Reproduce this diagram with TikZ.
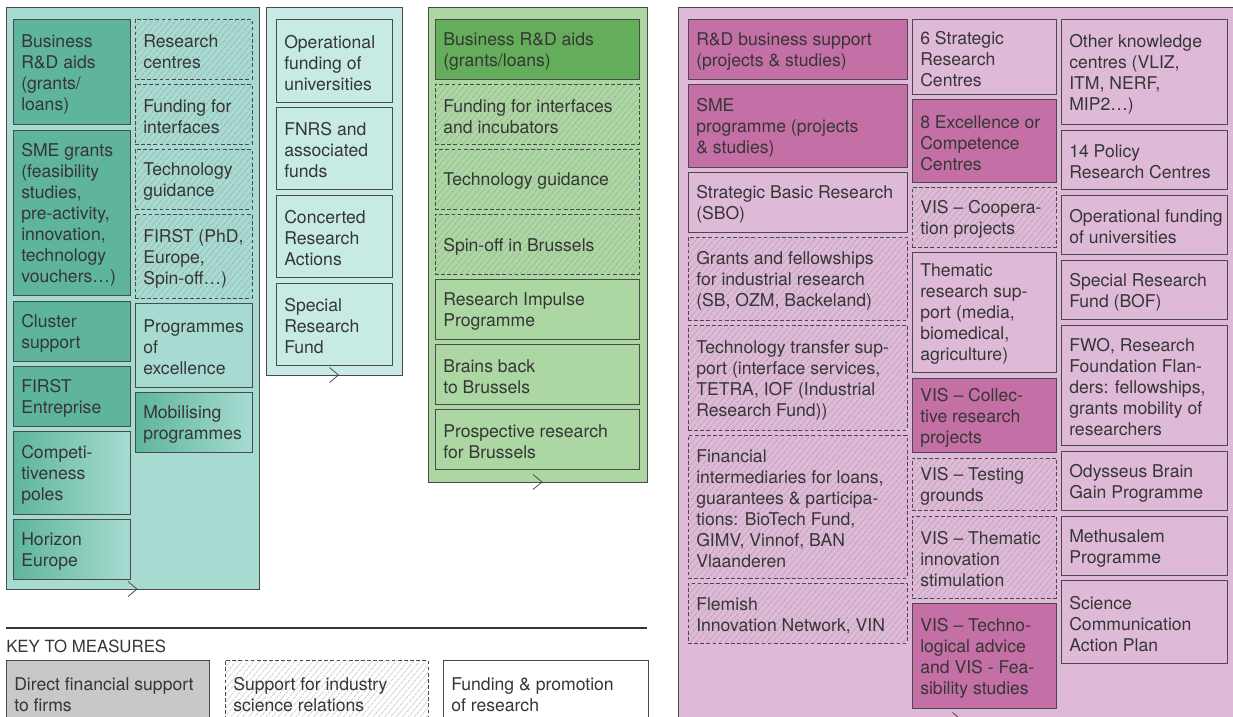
\documentclass[tikz,border=0pt]{standalone}
\usepackage{fontspec}
\setmainfont{TeX Gyre Heros}
\usetikzlibrary{calc, patterns.meta}

\definecolor{tealbg}{HTML}{A7DBD1}
\definecolor{tealdk}{HTML}{5EB59C}
\definecolor{cyanbg}{HTML}{C8EAE4}
\definecolor{greenbg}{HTML}{ACD7A3}
\definecolor{greendk}{HTML}{63AD5B}
\definecolor{pinkbg}{HTML}{DFB9D8}
\definecolor{pinkdk}{HTML}{C470A6}
\definecolor{keygray}{HTML}{C8C8CA}
\definecolor{boxline}{HTML}{4A4A4A}
\definecolor{txtclr}{HTML}{363636}

\tikzset{
  box/.style={draw=boxline, line width=0.55pt, inner sep=0pt, outer sep=0pt},
  solid box/.style={box, fill=#1},
  hatch box/.style={box, dash pattern=on 2.8pt off 1.8pt, preaction={fill=#1},
    pattern={Lines[angle=50, distance=3.4pt, line width=0.55pt]}, pattern color=#1!62!gray},
  fade box/.style 2 args={box, left color=#1, right color=#2},
  box text/.style={font=\fontsize{13.2}{15.75}\selectfont, text=txtclr, align=left, inner sep=0pt},
  panel/.style={draw=boxline, line width=0.6pt, fill=#1, inner sep=0pt, outer sep=0pt},
  chevron/.style={draw=boxline, line width=0.6pt},
}

% one measure: style, name, x1, y1, x2, y2 (px), text
\newcommand{\msrbox}[7][]{
  \pgfmathsetmacro{\msrwd}{0.75*(#5-#3)}
  \pgfmathsetmacro{\msrht}{0.75*(#6-#4)}
  \node[box, minimum width=\msrwd pt, minimum height=\msrht pt, #1] (#2) at ($(#3,#4)!0.5!(#5,#6)$) {};
  \node[box text, anchor=west] (#2-t) at ($(#2.west)+(8,2.5)$) {#7};
}
% one panel: name, x1, y1, x2, y2 (px), colour
\newcommand{\panelbox}[6]{
  \pgfmathsetmacro{\msrwd}{0.75*(#4-#2)}
  \pgfmathsetmacro{\msrht}{0.75*(#5-#3)}
  \node[panel=#6, minimum width=\msrwd pt, minimum height=\msrht pt] (#1) at ($(#2,#3)!0.5!(#4,#5)$) {};
  \draw[chevron] ($(#1.south)+(-4.5,-7.5)$) -- ($(#1.south)+(4.5,0)$) -- ($(#1.south)+(-4.5,7.5)$);
}

\begin{document}
\begin{tikzpicture}[x=0.75pt, y=-0.75pt]

\useasboundingbox (0,0) rectangle (1233,717);
\fill[white] (0,0) rectangle (1233,717);
\clip (0,0) rectangle (1233,717);

% Panels
\panelbox{teal}{6}{7}{259}{589}{tealbg}
\panelbox{cyan}{266}{7}{402}{375}{cyanbg}
\panelbox{green}{428}{7}{647}{482}{greenbg}
\panelbox{pink}{678}{7}{1236}{720}{pinkbg}

% Teal panel, left column
\msrbox[solid box=tealdk]{bus}{13}{19}{130}{124}{Business\\R\&D aids\\(grants/\\loans)}
\msrbox[solid box=tealdk]{sme}{13}{130}{130}{295}{SME grants\\(feasibility\\studies,\\pre-activity,\\innovation,\\technology\\vouchers…)}
\msrbox[solid box=tealdk]{cluster}{13}{301}{130}{361}{Cluster\\support}
\msrbox[solid box=tealdk]{firstent}{13}{366}{130}{426}{FIRST\\Entreprise}
\msrbox[fade box={tealdk}{tealbg}]{poles}{13}{431}{130}{514}{Competi-\\tiveness\\poles}
\msrbox[fade box={tealdk}{tealbg}]{horizon}{13}{519}{130}{579}{Horizon\\Europe}
% Teal panel, right column
\msrbox[hatch box=tealbg]{rescen}{135}{19}{252}{79}{Research\\centres}
\msrbox[hatch box=tealbg]{funint}{135}{84}{252}{144}{Funding for\\interfaces}
\msrbox[hatch box=tealbg]{techg}{135}{149}{252}{209}{Technology\\guidance}
\msrbox[hatch box=tealbg]{firstphd}{135}{214}{252}{298}{FIRST (PhD,\\Europe,\\Spin-off…)}
\msrbox[solid box=tealbg]{progexc}{135}{303}{252}{387}{Programmes\\of\\excellence}
\msrbox[fade box={tealdk}{tealbg}]{mobil}{135}{392}{252}{452}{Mobilising\\programmes}

% Cyan panel
\msrbox[solid box=cyanbg]{opfund}{276}{19}{392}{102}{Operational\\funding of\\universities}
\msrbox[solid box=cyanbg]{fnrs}{276}{107}{392}{189}{FNRS and\\associated\\funds}
\msrbox[solid box=cyanbg]{concert}{276}{195}{392}{277}{Concerted\\Research\\Actions}
\msrbox[solid box=cyanbg]{srf}{276}{283}{392}{365}{Special\\Research\\Fund}

% Green panel
\msrbox[solid box=greendk]{gbus}{435}{19}{639}{79}{Business R\&D aids\\(grants/loans)}
\msrbox[hatch box=greenbg]{gfund}{435}{84}{639}{144}{Funding for interfaces\\and incubators}
\msrbox[hatch box=greenbg]{gtech}{435}{149}{639}{209}{Technology guidance}
\msrbox[hatch box=greenbg]{gspin}{435}{214}{639}{274}{Spin-off in Brussels}
\msrbox[solid box=greenbg]{gimp}{435}{279}{639}{339}{Research Impulse\\Programme}
\msrbox[solid box=greenbg]{gbrain}{435}{344}{639}{404}{Brains back\\to Brussels}
\msrbox[solid box=greenbg]{gprosp}{435}{409}{639}{469}{Prospective research\\for Brussels}

% Pink panel, left column
\msrbox[solid box=pinkdk]{rdb}{688}{19}{907}{79}{R\&D business support\\(projects \& studies)}
\msrbox[solid box=pinkdk]{psme}{688}{84}{907}{167}{SME\\programme (projects\\\& studies)}
\msrbox[solid box=pinkbg]{sbo}{688}{172}{907}{232}{Strategic Basic Research\\(SBO)}
\msrbox[hatch box=pinkbg]{grants}{688}{237}{907}{320}{Grants and fellowships\\for industrial research\\(SB, OZM, Backeland)}
\msrbox[hatch box=pinkbg]{ttrans}{688}{325}{907}{430}{Technology transfer sup-\\port (interface services,\\TETRA, IOF (Industrial\\Research Fund))}
\msrbox[hatch box=pinkbg]{finint}{688}{435}{907}{578}{Financial\\intermediaries for loans,\\guarantees \& participa-\\tions: BioTech Fund,\\GIMV, Vinnof, BAN\\Vlaanderen}
\msrbox[hatch box=pinkbg]{vin}{688}{583}{907}{643}{Flemish\\Innovation Network, VIN}
% Pink panel, middle column
\msrbox[solid box=pinkbg]{src}{912}{19}{1056}{94}{6 Strategic\\Research\\Centres}
\msrbox[solid box=pinkdk]{exc}{912}{99}{1056}{182}{8 Excellence or\\Competence\\Centres}
\msrbox[hatch box=pinkbg]{viscoop}{912}{187}{1056}{247}{VIS – Coopera-\\tion projects}
\msrbox[solid box=pinkbg]{them}{912}{252}{1056}{372}{Thematic\\research sup-\\port (media,\\biomedical,\\agriculture)}
\msrbox[solid box=pinkdk]{viscoll}{912}{378}{1056}{452}{VIS – Collec-\\tive research\\projects}
\msrbox[hatch box=pinkbg]{vistest}{912}{458}{1056}{510}{VIS – Testing\\grounds}
\msrbox[hatch box=pinkbg]{visthem}{912}{516}{1056}{598}{VIS – Thematic\\innovation\\stimulation}
\msrbox[solid box=pinkdk]{vistech}{912}{603}{1056}{708}{VIS – Techno-\\logical advice\\and VIS - Fea-\\sibility studies}
% Pink panel, right column
\msrbox[solid box=pinkbg]{okc}{1061}{19}{1227}{124}{Other knowledge\\centres (VLIZ,\\ITM, NERF,\\MIP2…)}
\msrbox[solid box=pinkbg]{policy}{1061}{130}{1227}{189}{14 Policy\\Research Centres}
\msrbox[solid box=pinkbg]{opuni}{1061}{195}{1227}{254}{Operational funding\\of universities}
\msrbox[solid box=pinkbg]{bof}{1061}{260}{1227}{319}{Special Research\\Fund (BOF)}
\msrbox[solid box=pinkbg]{fwo}{1061}{325}{1227}{445}{FWO, Research\\Foundation Flan-\\ders: fellowships,\\grants mobility of\\researchers}
\msrbox[solid box=pinkbg]{odys}{1061}{451}{1227}{510}{Odysseus Brain\\Gain Programme}
\msrbox[solid box=pinkbg]{meth}{1061}{516}{1227}{575}{Methusalem\\Programme}
\msrbox[solid box=pinkbg]{sci}{1061}{580}{1227}{663}{Science\\Communication\\Action Plan}

% Key to measures
\coordinate (KL) at (6,628);
\coordinate (KR) at (647,628);
\draw[line width=0.9pt, draw=txtclr] (KL) -- (KR);
\node[box text, font=\fontsize{12.6}{15}\selectfont, anchor=west] (keytitle) at (6,646) {KEY TO MEASURES};
\msrbox[solid box=keygray]{keydirect}{6}{660}{209}{725}{Direct financial support\\to firms}
\msrbox[hatch box=white]{keyrel}{225}{660}{428}{725}{Support for industry\\science relations}
\msrbox[solid box=white]{keyres}{443}{660}{648}{725}{Funding \& promotion\\of research}

\end{tikzpicture}
\end{document}
